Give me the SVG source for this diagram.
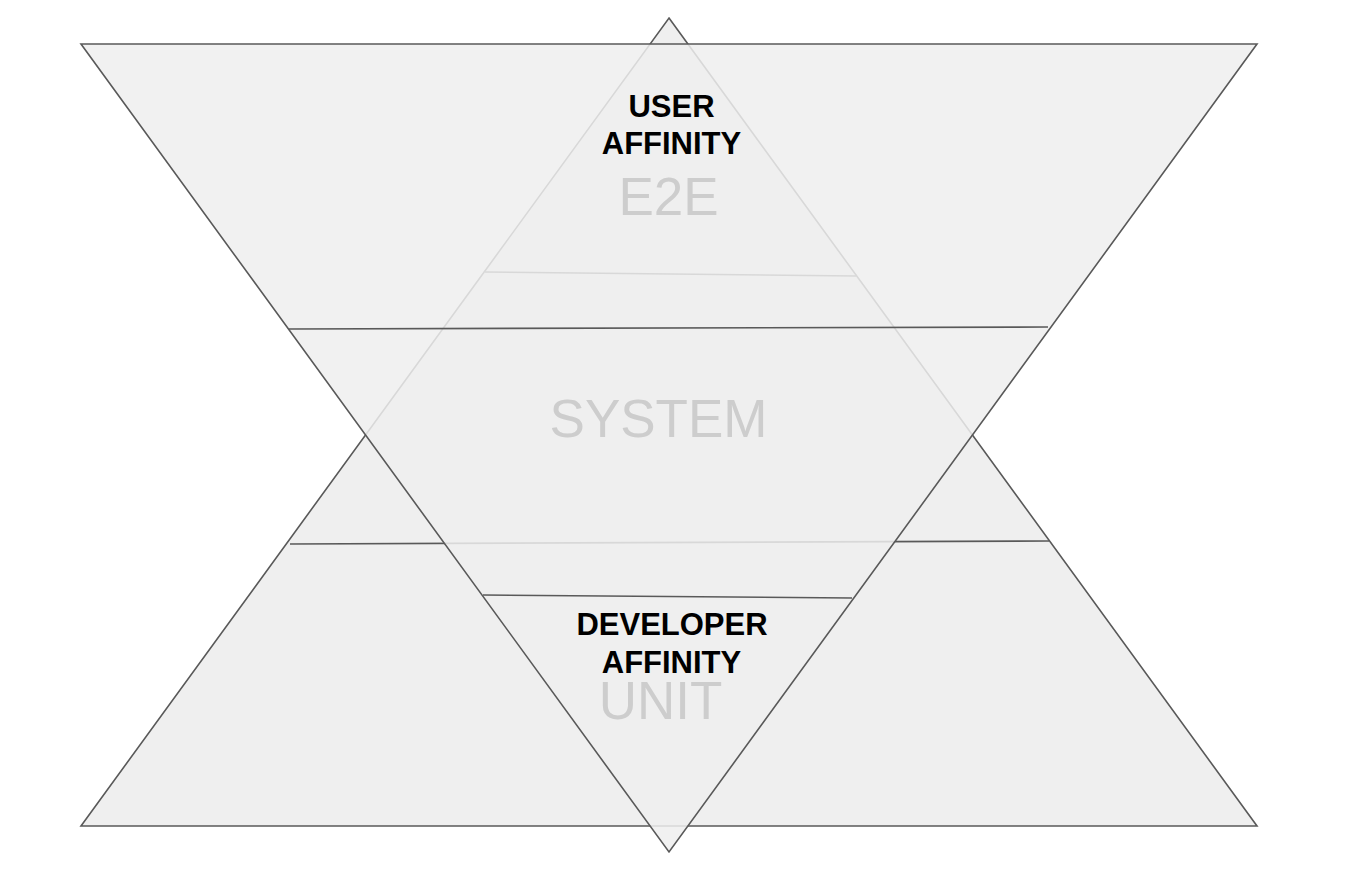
<svg xmlns="http://www.w3.org/2000/svg" width="1354" height="880" viewBox="0 0 1354 880">
<style>
.shape{fill:#efefef;stroke:#595959;stroke-width:1.6;stroke-linejoin:miter}
.over{fill:#efefef;fill-opacity:0.85;stroke:#595959;stroke-width:1.6}
.ln{fill:none;stroke:#595959;stroke-width:1.6}
.lvl{font-family:"Liberation Sans",Arial,sans-serif;font-size:53px;fill:#cdcdcd;text-anchor:middle}
.aff{font-family:"Liberation Sans",Arial,sans-serif;font-size:31px;font-weight:bold;fill:#000;text-anchor:middle}
</style>
<rect width="1354" height="880" fill="#ffffff"/>
<g id="upright-pyramid">
<polygon class="shape" points="669,18 1257,826 81,826"/>
<line class="ln" x1="485" y1="272" x2="856" y2="276"/>
<line class="ln" x1="290" y1="544" x2="1049" y2="541"/>
</g>
<g id="inverted-pyramid">
<polygon class="over" points="81,44 1257,44 669,852"/>
<line class="ln" x1="289" y1="329" x2="1048" y2="327"/>
<line class="ln" x1="483" y1="595" x2="852" y2="598"/>
</g>
<g id="labels-levels">
<text class="lvl" x="668.5" y="215">E2E</text>
<text class="lvl" x="658.5" y="437">SYSTEM</text>
<text class="lvl" x="660.5" y="719">UNIT</text>
</g>
<g id="user-affinity">
<text class="aff" x="671.5" y="117">USER</text>
<text class="aff" x="671.5" y="154">AFFINITY</text>
</g>
<g id="developer-affinity">
<text class="aff" x="672" y="635">DEVELOPER</text>
<text class="aff" x="671.5" y="673">AFFINITY</text>
</g>
<g id="connectors"></g>
</svg>
